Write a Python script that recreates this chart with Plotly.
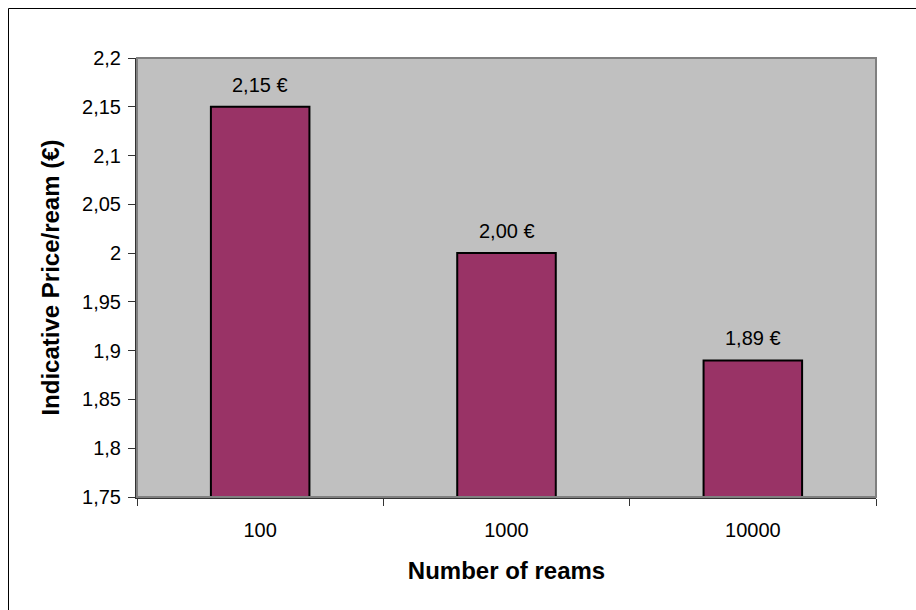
import plotly.graph_objects as go

categories = ["100", "1000", "10000"]
prices = [2.15, 2.00, 1.89]
ytick_vals = [1.75, 1.8, 1.85, 1.9, 1.95, 2.0, 2.05, 2.1, 2.15, 2.2]
ytick_text = ["1,75", "1,8", "1,85", "1,9", "1,95", "2", "2,05", "2,1", "2,15", "2,2"]
x_title = "Number of reams"
y_title = "Indicative Price/ream (€)"

labels = [f"{v:.2f} €".replace(".", ",") for v in prices]

FONT = "Liberation Sans, Arial, sans-serif"

fig = go.Figure()
fig.add_trace(go.Bar(
    x=categories, y=prices,
    marker=dict(color="#993366", line=dict(color="black", width=2)),
    width=0.40,
    hoverinfo="skip",
))

for i, (v, t) in enumerate(zip(prices, labels)):
    fig.add_annotation(x=i, y=v, text=t, showarrow=False, yanchor="bottom",
                       yshift=9, font=dict(family=FONT, size=20, color="black"))

# plot-area border (gray) and outer chart frame
fig.add_shape(type="rect", xref="paper", yref="paper", x0=0, x1=1, y0=0, y1=1,
              line=dict(color="#808080", width=2), layer="above")
fig.add_shape(type="rect", xref="paper", yref="paper",
              x0=(8.5 - 137) / 739, x1=(940 - 137) / 739,
              y0=(497 - 640) / 439, y1=(497 - 8.5) / 439,
              line=dict(color="black", width=1))

fig.update_layout(
    width=916, height=610,
    margin=dict(l=137, r=40, t=58, b=113),
    paper_bgcolor="white", plot_bgcolor="#C0C0C0",
    font=dict(family=FONT, size=20, color="black"),
    showlegend=False,
    xaxis=dict(
        type="category", range=[-0.5, 2.5], tickson="boundaries",
        ticks="outside", ticklen=7, tickangle=0,
        tickcolor="#333", showline=True, linecolor="#333", linewidth=2,
        showgrid=False, ticklabelstandoff=14,
        tickfont=dict(family=FONT, size=20, color="black"),
        title=dict(text=x_title, standoff=22,
                   font=dict(family=FONT, size=24, color="black", weight="bold")),
    ),
    yaxis=dict(
        range=[1.75, 2.2], tickvals=ytick_vals, ticktext=ytick_text,
        ticks="outside", ticklen=7, tickcolor="#333",
        showline=True, linecolor="#333", linewidth=2, showgrid=False,
        zeroline=False, ticklabelstandoff=3,
        tickfont=dict(family=FONT, size=20, color="black"),
        title=dict(text=y_title, standoff=16,
                   font=dict(family=FONT, size=24, color="black", weight="bold")),
    ),
)

fig.write_html("out.html")
